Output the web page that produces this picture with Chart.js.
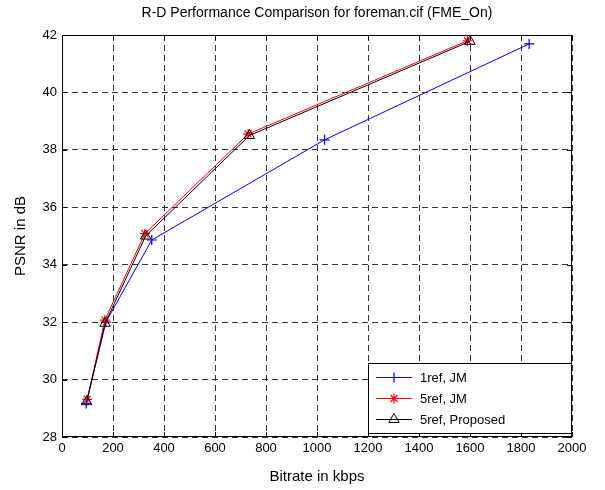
<!DOCTYPE html>
<html>
<head>
<meta charset="utf-8">
<script src="https://cdn.jsdelivr.net/npm/chart.js@4"></script>
<style>
html,body{margin:0;padding:0;background:#fff;}
#wrap{width:605px;height:490px;}
</style>
</head>
<body>
<div id="wrap"><canvas id="c" width="605" height="490"></canvas></div>
<script>
const chartTitle = "R-D Performance Comparison for foreman.cif (FME_On)";
const xTitle = "Bitrate in kbps";
const yTitle = "PSNR in dB";
const seriesNames = ["1ref, JM", "5ref, JM", "5ref, Proposed"];
const rate1refJM = [95, 172, 352, 1030, 1832];
const psnr1refJM = [29.17, 32.0, 34.86, 38.35, 41.69];
const rate5refJM = [99, 168, 325, 730, 1590];
const psnr5refJM = [29.31, 32.07, 35.08, 38.55, 41.80];
const rate5refProp = [97, 169, 328, 735, 1600];
const psnr5refProp = [29.23, 31.96, 35.0, 38.5, 41.78];
const xTicks = [0, 200, 400, 600, 800, 1000, 1200, 1400, 1600, 1800, 2000];
const yTicks = [28, 30, 32, 34, 36, 38, 40, 42];

const FONT = "'Liberation Sans', Arial, sans-serif";
const toPts = (xs, ys) => xs.map((x, i) => ({x: x, y: ys[i]}));

const datasets = [
  {label: seriesNames[0], data: toPts(rate1refJM, psnr1refJM), borderColor: '#0000ff', backgroundColor: '#0000ff',
   pointBorderColor: '#0000ff', pointBackgroundColor: 'rgba(0,0,0,0)',
   pointStyle: 'cross', pointRadius: 5, pointBorderWidth: 1.2, borderWidth: 1, order: 3},
  {label: seriesNames[1], data: toPts(rate5refJM, psnr5refJM), borderColor: '#ff0000', backgroundColor: '#ff0000',
   pointBorderColor: '#ff0000', pointBackgroundColor: 'rgba(0,0,0,0)',
   pointStyle: 'star', pointRadius: 5, pointBorderWidth: 1.2, borderWidth: 1, order: 2},
  {label: seriesNames[2], data: toPts(rate5refProp, psnr5refProp), borderColor: '#000000', backgroundColor: 'rgba(0,0,0,0)',
   pointBorderColor: '#000000', pointBackgroundColor: 'rgba(0,0,0,0)',
   pointStyle: 'triangle', pointRadius: 6, pointBorderWidth: 1, borderWidth: 1, order: 1}
];

const framePlugin = {
  id: 'frame',
  afterDraw(chart) {
    const ctx = chart.ctx, a = chart.chartArea;
    const xs = chart.scales.x, ys = chart.scales.y;
    ctx.save();
    ctx.strokeStyle = '#000';
    ctx.lineWidth = 1;
    ctx.setLineDash([]);
    ctx.strokeRect(a.left + 0.5, a.top + 0.5, a.right - a.left - 1, a.bottom - a.top - 1);
    ctx.beginPath();
    xTicks.forEach(v => {
      const p = Math.round(xs.getPixelForValue(v)) + 0.5;
      ctx.moveTo(p, a.bottom); ctx.lineTo(p, a.bottom - 5);
      ctx.moveTo(p, a.top); ctx.lineTo(p, a.top + 5);
    });
    yTicks.forEach(v => {
      const p = Math.round(ys.getPixelForValue(v)) + 0.5;
      ctx.moveTo(a.left, p); ctx.lineTo(a.left + 5, p);
      ctx.moveTo(a.right, p); ctx.lineTo(a.right - 5, p);
    });
    ctx.stroke();
    ctx.fillStyle = '#000';
    ctx.font = '14px ' + FONT;
    ctx.textAlign = 'center';
    ctx.textBaseline = 'middle';
    ctx.fillText(chartTitle, (a.left + a.right) / 2, 13);
    const lx = 368, ly = 363, lw = 203, lh = 70;
    ctx.fillStyle = '#fff';
    ctx.fillRect(lx, ly, lw, lh);
    ctx.strokeStyle = '#000';
    ctx.strokeRect(lx + 0.5, ly + 0.5, lw, lh);
    ctx.font = '13px ' + FONT;
    ctx.textAlign = 'left';
    chart.data.datasets.forEach((ds, i) => {
      const y = ly + 14 + i * 21;
      ctx.strokeStyle = ds.borderColor;
      ctx.lineWidth = 1;
      ctx.beginPath();
      ctx.moveTo(lx + 8, y + 0.5); ctx.lineTo(lx + 44, y + 0.5);
      ctx.stroke();
      ctx.fillStyle = 'rgba(0,0,0,0)';
      ctx.strokeStyle = ds.pointBorderColor;
      ctx.lineWidth = ds.pointBorderWidth;
      Chart.helpers.drawPoint(ctx, {pointStyle: ds.pointStyle, radius: ds.pointRadius, rotation: 0,
        borderWidth: ds.pointBorderWidth}, lx + 26, y + 0.5);
      ctx.fillStyle = '#000';
      ctx.fillText(ds.label, lx + 52, y + 1);
    });
    ctx.restore();
  }
};

new Chart(document.getElementById('c'), {
  type: 'line',
  data: {datasets: datasets},
  options: {
    responsive: false,
    animation: false,
    devicePixelRatio: 1,
    layout: {padding: {top: 35, right: 33, left: 8, bottom: 0}},
    plugins: {legend: {display: false}, tooltip: {enabled: false}, title: {display: false}},
    elements: {line: {tension: 0}},
    scales: {
      x: {
        type: 'linear', min: 0, max: 2000,
        afterBuildTicks: s => { s.ticks = xTicks.map(v => ({value: v})); },
        afterFit: s => { s.height = 53; },
        ticks: {color: '#000', font: {family: FONT, size: 13}, padding: 4, maxRotation: 0,
                callback: v => String(v)},
        grid: {color: '#333', lineWidth: 1, tickLength: 0, drawTicks: false},
        border: {display: false, dash: [6, 4]},
        title: {display: true, text: xTitle, color: '#000', font: {family: FONT, size: 15}, padding: {top: 2}}
      },
      y: {
        type: 'linear', min: 28, max: 42,
        afterBuildTicks: s => { s.ticks = yTicks.map(v => ({value: v})); },
        afterFit: s => { s.width = 54; },
        ticks: {color: '#000', font: {family: FONT, size: 13}, padding: 5, callback: v => String(v)},
        grid: {color: '#333', lineWidth: 1, tickLength: 0, drawTicks: false},
        border: {display: false, dash: [6, 4]},
        title: {display: true, text: yTitle, color: '#000', font: {family: FONT, size: 15}, padding: {bottom: 2}}
      }
    }
  },
  plugins: [framePlugin]
});
</script>
</body>
</html>
